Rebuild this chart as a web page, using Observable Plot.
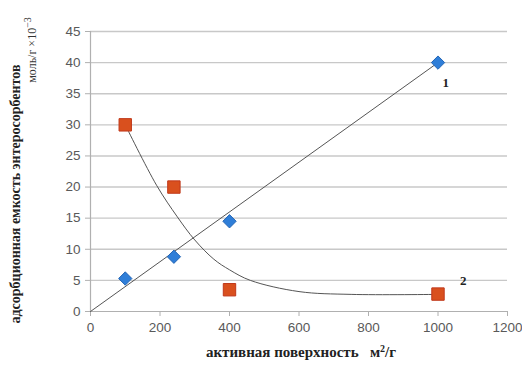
<!DOCTYPE html>
<html><head><meta charset="utf-8">
<script src="https://cdn.jsdelivr.net/npm/d3@7"></script>
<script src="https://cdn.jsdelivr.net/npm/@observablehq/plot@0.6"></script>
<style>body{margin:0;background:#fff}#chart{width:522px;height:369px}</style>
</head><body><div id="chart"></div>
<script>
// Series 1 (blue diamonds)
const s1X = [100, 240, 400, 1000];
const s1Y = [5.3, 8.8, 14.5, 40];
// Series 2 (red squares)
const s2X = [100, 240, 400, 1000];
const s2Y = [30, 20, 3.5, 2.8];
// Trend line 1 (linear through origin)
const t1X = [0, 1000];
const t1Y = [0, 40];
// Trend curve 2
const t2X = [100, 190, 250, 300, 355, 400, 460, 600, 750, 1000];
const t2Y = [30, 20.3, 15.2, 11.5, 8.4, 6.7, 5.0, 3.2, 2.75, 2.75];
// Ticks
const xTicks = [0, 200, 400, 600, 800, 1000, 1200];
const yTicks = [0, 5, 10, 15, 20, 25, 30, 35, 40, 45];
const lineLabels = [{x: 1022, y: 36.7, t: "1"}, {x: 1073, y: 5.0, t: "2"}];

const p1 = s1X.map((x, i) => ({x, y: s1Y[i]}));
const p2 = s2X.map((x, i) => ({x, y: s2Y[i]}));
const l1 = t1X.map((x, i) => ({x, y: t1Y[i]}));
const l2 = t2X.map((x, i) => ({x, y: t2Y[i]}));

const chart = Plot.plot({
  width: 522, height: 369,
  marginLeft: 90, marginRight: 15, marginTop: 31, marginBottom: 58,
  style: {fontFamily: "'Liberation Sans', sans-serif", fontSize: "13px", color: "#595959", background: "#fff"},
  x: {domain: [0, 1200], label: null},
  y: {domain: [0, 45], label: null},
  marks: [
    Plot.ruleY(yTicks.filter(d => d > 0), {stroke: "#c8c8c8", strokeWidth: 1.4}),
    Plot.ruleY([0], {stroke: "#b0b0b0", strokeWidth: 1.2}),
    Plot.ruleX([0], {stroke: "#b0b0b0", strokeWidth: 1.2}),
    Plot.axisX({ticks: xTicks, tickSize: 5, tickPadding: 6, stroke: "#b0b0b0", fill: "#595959", tickFormat: "d", fontSize: 13.5}),
    Plot.axisY({ticks: yTicks, tickSize: 5, tickPadding: 5, stroke: "#b0b0b0", fill: "#595959", tickFormat: "d", fontSize: 13.5}),
    Plot.line(l1, {x: "x", y: "y", stroke: "#555", strokeWidth: 1}),
    Plot.line(l2, {x: "x", y: "y", stroke: "#555", strokeWidth: 1, curve: "catmull-rom"}),
    Plot.dot(p1, {x: "x", y: "y", symbol: "diamond2", r: 6, fill: "#2f7ed8", stroke: "#2566b5", strokeWidth: 1}),
    Plot.dot(p2, {x: "x", y: "y", symbol: "square", r: 7, fill: "#d9501e", stroke: "#c0381a", strokeWidth: 1}),
    Plot.text(lineLabels, {x: "x", y: "y", text: "t", fontFamily: "'Liberation Serif', serif", fontWeight: "bold", fontSize: 13, fill: "#222"})
  ]
});
document.getElementById("chart").appendChild(chart);

const svg = d3.select(chart);
svg.append("text")
  .attr("transform", "translate(20,194) rotate(-90)")
  .attr("text-anchor", "middle")
  .style("font-family", "'Liberation Serif', serif").style("font-weight", "bold").style("font-size", "14px").attr("fill", "#222")
  .text("адсорбционная емкость энтеросорбентов");
const t2 = svg.append("text")
  .attr("transform", "translate(36,50) rotate(-90)")
  .attr("text-anchor", "middle")
  .style("font-family", "'Liberation Serif', serif").style("font-size", "12px").attr("fill", "#333");
t2.append("tspan").text("моль/г ×10");
t2.append("tspan").attr("dy", "-5").style("font-size", "10px").text("−3");
const xl = svg.append("text")
  .attr("x", 301).attr("y", 357)
  .attr("text-anchor", "middle")
  .style("font-family", "'Liberation Serif', serif").style("font-weight", "bold").style("font-size", "15px").attr("fill", "#222")
  .attr("xml:space", "preserve").style("white-space", "pre");
xl.append("tspan").text("активная поверхность   м");
xl.append("tspan").attr("dy", "-5").style("font-size", "10px").text("2");
xl.append("tspan").attr("dy", "5").text("/г");
</script>
</body></html>
